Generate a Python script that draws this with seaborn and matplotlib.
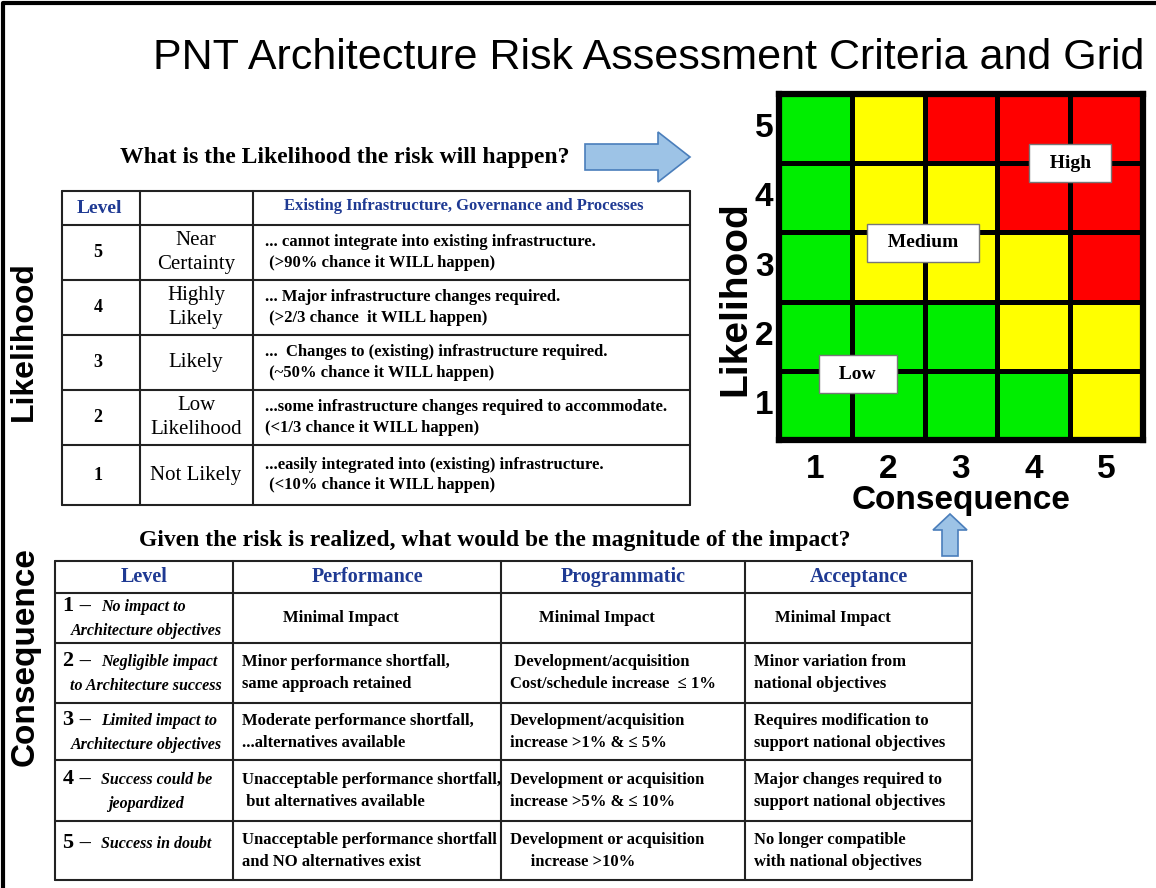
import seaborn as sns
from matplotlib import pyplot as plt
from matplotlib.colors import ListedColormap
from matplotlib.patches import FancyArrow

sns.set_theme(style="white")
plt.rcParams["font.family"] = ["Liberation Sans", "DejaVu Sans"]
plt.rcParams["text.color"] = "black"
plt.rcParams["axes.labelcolor"] = "black"
plt.rcParams["xtick.color"] = "black"
plt.rcParams["ytick.color"] = "black"

SERIF = ["Liberation Serif", "DejaVu Serif"]
NAVY = "#1f3a93"
W, H = 1156, 888

title = "PNT Architecture Risk Assessment Criteria and Grid"
likelihood_q = "What is the Likelihood the risk will happen?"
consequence_q = "Given the risk is realized, what would be the magnitude of the impact?"

# risk grid: rows = likelihood 5..1, cols = consequence 1..5 (0 low, 1 medium, 2 high)
likelihood_levels = ["5", "4", "3", "2", "1"]
consequence_levels = ["1", "2", "3", "4", "5"]
risk_grid = [
    [0, 1, 2, 2, 2],
    [0, 1, 1, 2, 2],
    [0, 1, 1, 1, 2],
    [0, 0, 0, 1, 1],
    [0, 0, 0, 0, 1],
]
risk_names = ["Low", "Medium", "High"]
risk_colors = ["#00ee00", "#ffff00", "#ff0000"]

lik_header = ["Level", "", "Existing Infrastructure, Governance and Processes"]
lik_level = ["5", "4", "3", "2", "1"]
lik_name = ["Near\nCertainty", "Highly\nLikely", "Likely", "Low\nLikelihood", "Not Likely"]
lik_desc = [
    "... cannot integrate into existing infrastructure.\n (>90% chance it WILL happen)",
    "... Major infrastructure changes required.\n (>2/3 chance  it WILL happen)",
    "...  Changes to (existing) infrastructure required.\n (~50% chance it WILL happen)",
    "...some infrastructure changes required to accommodate.\n(<1/3 chance it WILL happen)",
    "...easily integrated into (existing) infrastructure.\n (<10% chance it WILL happen)",
]

con_header = ["Level", "Performance", "Programmatic", "Acceptance"]
con_level = ["1", "2", "3", "4", "5"]
con_desc = [
    "No impact to\nArchitecture objectives",
    "Negligible impact\nto Architecture success",
    "Limited impact to\nArchitecture objectives",
    "Success could be\njeopardized",
    "Success in doubt",
]
performance = [
    "Minimal Impact",
    "Minor performance shortfall,\nsame approach retained",
    "Moderate performance shortfall,\n...alternatives available",
    "Unacceptable performance shortfall,\n but alternatives available",
    "Unacceptable performance shortfall\nand NO alternatives exist",
]
programmatic = [
    "Minimal Impact",
    " Development/acquisition\nCost/schedule increase  \u2264 1%",
    "Development/acquisition\nincrease >1% & \u2264 5%",
    "Development or acquisition\nincrease >5% & \u2264 10%",
    "Development or acquisition\n     increase >10%",
]
acceptance = [
    "Minimal Impact",
    "Minor variation from\nnational objectives",
    "Requires modification to\nsupport national objectives",
    "Major changes required to\nsupport national objectives",
    "No longer compatible\nwith national objectives",
]

fig = plt.figure(figsize=(W / 100, H / 100), dpi=100)

# page canvas in pixel units
ax = fig.add_axes([0, 0, 1, 1])
ax.set_xlim(0, W)
ax.set_ylim(H, 0)
ax.axis("off")
ax.plot([3, 3, W], [H, 3, 3], color="black", lw=3)

ax.text(649, 58, title, ha="center", va="center", fontsize=31)
ax.text(345, 157, likelihood_q, ha="center", va="center", fontsize=17,
        fontweight="bold", family=SERIF)
ax.text(495, 540, consequence_q, ha="center", va="center", fontsize=17,
        fontweight="bold", family=SERIF)
ax.text(24, 341, "Likelihood", rotation=90, ha="center", va="center",
        fontsize=23, fontweight="bold")
ax.text(25, 657, "Consequence", rotation=90, ha="center", va="center",
        fontsize=24, fontweight="bold")

arrow_kw = dict(facecolor="#9dc3e6", edgecolor="#4a7ebb", lw=1.2,
                length_includes_head=True)
ax.add_patch(FancyArrow(585, 157, 105, 0, width=26, head_width=50,
                        head_length=32, **arrow_kw))
ax.add_patch(FancyArrow(950, 556, 0, -42, width=16, head_width=34,
                        head_length=16, **arrow_kw))

line_kw = dict(color="#222222", lw=1.5)

# likelihood table
lr = [191, 225, 280, 335, 390, 445, 505]
lc = [62, 140, 253, 690]
for y in lr:
    ax.plot([lc[0], lc[-1]], [y, y], **line_kw)
for x in lc:
    ax.plot([x, x], [lr[0], lr[-1]], **line_kw)
ax.text(99, 208, lik_header[0], ha="center", va="center", fontsize=14,
        fontweight="bold", color=NAVY, family=SERIF)
ax.text(464, 206, lik_header[2], ha="center", va="center", fontsize=12,
        fontweight="bold", color=NAVY, family=SERIF)
for i in range(5):
    yc = (lr[i + 1] + lr[i + 2]) / 2
    ax.text(98, yc, lik_level[i], ha="center", va="center", fontsize=13,
            fontweight="bold", family=SERIF)
    ax.text(196, yc, lik_name[i], ha="center", va="center", fontsize=15,
            family=SERIF, linespacing=1.3)
    ax.text(265, yc, lik_desc[i], ha="left", va="center", fontsize=12,
            fontweight="bold", family=SERIF, linespacing=1.4)

# consequence table
cr = [561, 593, 643, 703, 760, 821, 880]
cc = [55, 233, 501, 745, 972]
for y in cr:
    ax.plot([cc[0], cc[-1]], [y, y], **line_kw)
for x in cc:
    ax.plot([x, x], [cr[0], cr[-1]], **line_kw)
for j, name in enumerate(con_header):
    ax.text((cc[j] + cc[j + 1]) / 2, 577, name, ha="center", va="center",
            fontsize=14.5, fontweight="bold", color=NAVY, family=SERIF)
for i in range(5):
    yc = (cr[i + 1] + cr[i + 2]) / 2
    first, *rest = con_desc[i].split("\n")
    y1 = yc - 12 if rest else yc - 8
    ax.text(63, y1, con_level[i] + " \u2013", ha="left", va="center",
            fontsize=16, fontweight="bold", family=SERIF)
    ax.text(101, y1 + 1, first, ha="left", va="center", fontsize=11.5,
            fontweight="bold", style="italic", family=SERIF)
    if rest:
        ax.text(146, yc + 13, rest[0], ha="center", va="center", fontsize=11.5,
                fontweight="bold", style="italic", family=SERIF)
    for j, col in enumerate([performance, programmatic, acceptance]):
        left = cc[j + 1]
        txt_kw = dict(va="center", fontsize=12, fontweight="bold",
                      family=SERIF, linespacing=1.5)
        if i == 0:
            ax.text((left + cc[j + 2]) / 2 - 26, yc, col[i], ha="center", **txt_kw)
        else:
            ax.text(left + 9, yc, col[i], ha="left", **txt_kw)

# risk grid
x0, y0, x1, y1 = 779, 94, 1143, 440
axh = fig.add_axes([x0 / W, 1 - y1 / H, (x1 - x0) / W, (y1 - y0) / H])
sns.heatmap(risk_grid, cmap=ListedColormap(risk_colors), vmin=-0.5, vmax=2.5,
            linewidths=3.5, linecolor="black", cbar=False,
            xticklabels=consequence_levels, yticklabels=likelihood_levels, ax=axh)
for spine in axh.spines.values():
    spine.set_visible(True)
    spine.set_linewidth(4.5)
    spine.set_color("black")
axh.tick_params(axis="both", length=0, labelsize=24)
axh.tick_params(axis="x", pad=10)
axh.tick_params(axis="y", pad=4, labelrotation=0)
for lab in axh.get_xticklabels() + axh.get_yticklabels():
    lab.set_fontweight("bold")
axh.set_xlabel("Consequence", fontsize=24, fontweight="bold", labelpad=0)
axh.set_ylabel("Likelihood", fontsize=28, fontweight="bold")
axh.yaxis.set_label_coords(-0.07, 0.41)

box = dict(boxstyle="square,pad=0.55", facecolor="white", edgecolor="#777777", lw=1)
label_pos = [(1.08, 4.05), (1.98, 2.15), (4.0, 1.0)]
for name, (cx, cy) in zip(risk_names, label_pos):
    axh.text(cx, cy, f"  {name}  ", ha="center", va="center", fontsize=14,
             fontweight="bold", family=SERIF, bbox=box)

fig.savefig("out.png", dpi=100)
